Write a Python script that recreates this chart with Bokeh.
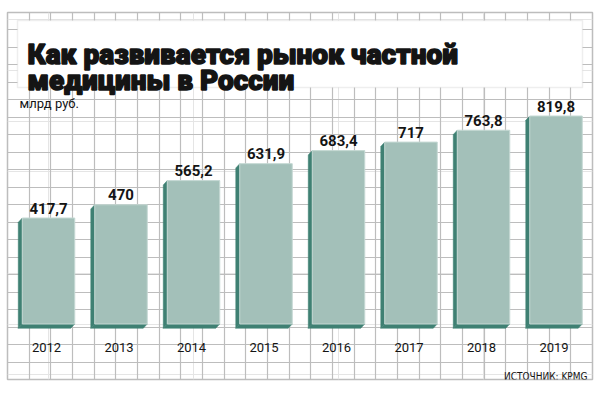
from bokeh.plotting import figure
from bokeh.models import Range1d, Grid, FixedTicker, BoxAnnotation, Label, ColumnDataSource
from bokeh.core.properties import value
from bokeh.embed import file_html
from bokeh.resources import INLINE

# ---- data ----
years = ["2012", "2013", "2014", "2015", "2016", "2017", "2018", "2019"]
values = [417.7, 470, 565.2, 631.9, 683.4, 717, 763.8, 819.8]
value_labels = [f"{v:g}".replace(".", ",") for v in values]
title_lines = ["Как развивается рынок частной", "медицины в России"]
unit_text = "млрд руб."
source_text = "ИСТОЧНИК: KPMG"

# ---- layout constants (pixels, relative to the figure origin) ----
W, H = 597, 386
X0_PX = 48.0        # x of first bar centre
SLOT_PX = 72.5      # px between bars
BASE_PX = 323.5     # y of value 0
UNIT_PX = 0.2537    # px per value unit
FRAME_L, FRAME_R, FRAME_T, FRAME_B = 7, 592, 12, 379

def dx(sx):
    return (sx - X0_PX) / SLOT_PX

def dy(sy):
    return (BASE_PX - sy) / UNIT_PX

FRONT = "#a3c0b9"
DARK = "#3f8073"
GRID = "#bdbdbd"
INK = "#141414"

p = figure(width=W, height=H, output_backend="svg", toolbar_location=None,
           x_axis_location=None, y_axis_location=None,
           x_range=Range1d(dx(FRAME_L), dx(FRAME_R)),
           y_range=Range1d(dy(FRAME_B), dy(FRAME_T)),
           min_border_left=FRAME_L, min_border_right=W - FRAME_R,
           min_border_top=FRAME_T, min_border_bottom=H - FRAME_B)
p.background_fill_color = "white"
p.border_fill_color = "white"
p.outline_line_color = GRID
p.outline_line_width = 1.5

ncol, nrow = 27, 21
xt = [dx(FRAME_L + k * (FRAME_R - FRAME_L) / ncol) for k in range(1, ncol)]
yt = [dy(FRAME_T + k * (FRAME_B - FRAME_T) / nrow) for k in range(1, nrow)]
p.add_layout(Grid(dimension=0, ticker=FixedTicker(ticks=xt), grid_line_color=GRID, grid_line_width=1.2))
p.add_layout(Grid(dimension=1, ticker=FixedTicker(ticks=yt), grid_line_color=GRID, grid_line_width=1.2))

# ---- bars ----
idx = list(range(len(years)))
bw = 52.5 / SLOT_PX
ddx = 4.0 / SLOT_PX
ddy = 4.3 / UNIT_PX

side_xs, side_ys, bot_xs, bot_ys = [], [], [], []
for i, v in zip(idx, values):
    l, r = i - bw / 2, i + bw / 2
    side_xs.append([l, l - ddx, l - ddx, l])
    side_ys.append([v, v - ddy, -ddy, 0])
    bot_xs.append([l, r, r - ddx, l - ddx])
    bot_ys.append([0, 0, -ddy, -ddy])

p.patches(side_xs, side_ys, fill_color=DARK, line_color=DARK, line_width=0.5)
p.patches(bot_xs, bot_ys, fill_color=DARK, line_color=DARK, line_width=0.5)

src = ColumnDataSource(dict(x=idx, top=values, lab=value_labels, yr=years,
                            ly=[v + 10 / UNIT_PX for v in values],
                            yx=[i - 2 / SLOT_PX for i in idx]))
p.vbar(x="x", top="top", bottom=0, width=bw, source=src,
       fill_color=FRONT, line_color="#c4d8d3", line_width=1)

p.text(x="x", y="ly", text="lab", source=src, text_align="center",
       text_baseline="alphabetic", text_font=value("Roboto"), text_font_style="bold",
       text_font_size="15px", text_color=INK)
p.text(x="yx", y=dy(346.7), text="yr", source=src, text_align="center",
       text_baseline="alphabetic", text_font=value("Roboto"),
       text_font_size="13px", text_color=INK)

# ---- title box ----
p.add_layout(BoxAnnotation(left=dx(17), right=dx(582), top=dy(20), bottom=dy(87),
                           fill_color="white", fill_alpha=1.0,
                           line_color="#c8c8c8", line_width=1.5))
for line, by in zip(title_lines, [53.5, 79.5]):
    p.add_layout(Label(x=dx(27), y=dy(by), text=line, text_align="left",
                       text_baseline="alphabetic",
                       text_font="'Roboto Black', 'Lato Black', 'Inter Black', Roboto",
                       text_font_style="bold",
                       text_font_size="28px", text_color=INK,
                       text_outline_color=INK))

p.add_layout(Label(x=dx(19), y=dy(103), text=unit_text, text_baseline="alphabetic",
                   text_font="Roboto", text_font_size="13px", text_color=INK))
p.add_layout(Label(x=dx(587), y=dy(375.5), text=source_text, text_align="right",
                   text_baseline="alphabetic",
                   text_font="'DejaVu Sans Condensed', 'Liberation Sans Narrow', Roboto",
                   text_font_size="10px", text_color=INK))

open("out.html", "w").write(file_html(p, INLINE))
